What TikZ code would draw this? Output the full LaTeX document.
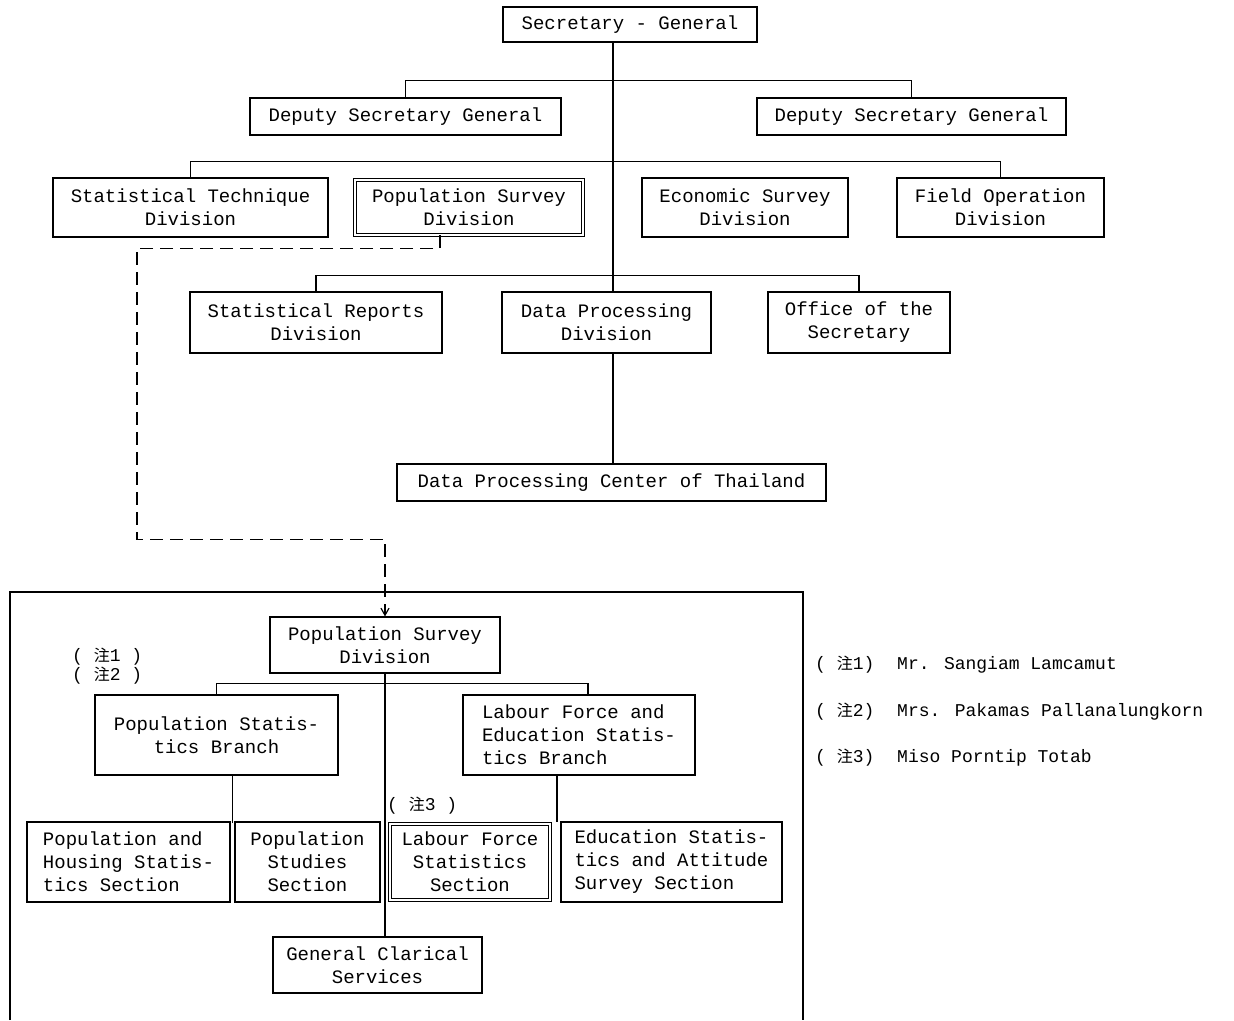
\documentclass[tikz,border=0pt]{standalone}
\usepackage{fontspec}
\usetikzlibrary{arrows.meta}
\newfontfamily\monofont{Liberation Mono}
\newfontfamily\cjk{Noto Sans CJK JP}
\newcommand{\notech}{{\cjk\fontsize{16}{16}\selectfont 注}}
\begin{document}
\begin{tikzpicture}[x=1pt,y=-1pt,
    box/.style={draw=black,line width=1.2pt,inner sep=0pt,align=center,
      font=\monofont\fontsize{19}{23}\selectfont},
    dbox/.style={box,double,double distance=2pt,line width=0.8pt},
    link/.style={draw=black,line width=1.2pt},
    note/.style={inner sep=0pt,anchor=west,font=\monofont\fontsize{18}{18}\selectfont}]
    \useasboundingbox (0,0) rectangle (1234,1020);

    \node[box,minimum width=254,minimum height=35] (S1) at (630, 24.5) {Secretary - General};

    \node[box,minimum width=311,minimum height=37] (D1) at (405.5, 116.5) {Deputy Secretary General};
    \node[box,minimum width=309,minimum height=37] (D2) at (911.5, 116.5) {Deputy Secretary General};

    \node[box,minimum width=275,minimum height=59] (V1) at (190.5, 207.5) {Statistical Technique\\Division};
    \node[dbox,minimum width=228,minimum height=55] (V2) at (469, 207.5) {Population Survey\\Division};
    \node[box,minimum width=206,minimum height=59] (V3) at (745, 207.5) {Economic Survey\\Division};
    \node[box,minimum width=207,minimum height=59] (V4) at (1000.5, 207.5) {Field Operation\\Division};

    \node[box,minimum width=252,minimum height=61] (R1) at (316, 322.5) {Statistical Reports\\Division};
    \node[box,minimum width=209,minimum height=61] (R2) at (606.5, 322.5) {Data Processing\\Division};
    \node[box,minimum width=182,minimum height=61] (R3) at (859, 322.5) {Office of the\\Secretary};

    \node[box,minimum width=429,minimum height=37] (C1) at (611.5, 482.5) {Data Processing Center of Thailand};

    \coordinate (k) at (613, 0);
    \draw[link] (k |- S1.south) -- (k |- R2.north);
    \draw[link] (k |- R2.south) -- (k |- C1.north);
    \draw[link] (D1.north) -- ++(0,-17) -| (D2.north);
    \draw[link] (V1.north) -- ++(0,-16) -| (V4.north);
    \draw[link] (R1.north) -- ++(0,-16) -| (R3.north);

    % lower part
    \draw[link] (10,1020) -- (10,592) -- (803,592) -- (803,1020);

    \node[box,minimum width=230,minimum height=56] (P1) at (385, 645) {Population Survey\\Division};

    \draw[link,dash pattern=on 13pt off 7pt,-{Straight Barb[length=7pt,width=8pt]}]
      ([xshift=-29]V2.south) -- ++(0,13) -- ++(-303,0) -- ++(0,291) -| (P1.north);

    \node[box,minimum width=243,minimum height=80] (B1) at (216.5, 735) {Population Statis-\\tics Branch};
    \node[box,align=left,minimum width=232,minimum height=80] (B2) at (579, 735) {Labour Force and\\Education Statis-\\tics Branch};

    \node[box,align=left,minimum width=203,minimum height=80] (T1) at (128.5, 862) {Population and\\Housing Statis-\\tics Section};
    \node[box,minimum width=145,minimum height=80] (T2) at (307.5, 862) {Population\\Studies\\Section};
    \node[dbox,minimum width=160,minimum height=76] (T3) at (470, 862) {Labour Force\\Statistics\\Section};
    \node[box,align=left,minimum width=221,minimum height=80] (T4) at (671.5, 862) {Education Statis-\\tics and Attitude\\Survey Section};

    \node[box,minimum width=209,minimum height=56] (G1) at (377.5, 965) {General Clarical\\Services};

    \draw[link] (P1.south) -- (P1.south |- G1.north);
    \draw[link] (B1.north) -- ++(0,-11) -| ([xshift=9]B2.north);
    \draw[link] ([xshift=16]B1.south) -- ++(0,47);
    \draw[link] ([xshift=-22]B2.south) -- ++(0,46);

    \node[note] (N1) at (72, 657) {( \notech1 )};
    \node[note] (N2) at (72, 676) {( \notech2 )};
    \node[note] (N3) at (387, 806) {( \notech3 )};

    \node[note] (M1) at (815, 665) {( \notech1)};
    \node[note] (M2) at (815, 712) {( \notech2)};
    \node[note] (M3) at (815, 758) {( \notech3)};
    \node[note] (L1) at (897, 665) {Mr. Sangiam Lamcamut};
    \node[note] (L2) at (897, 712) {Mrs. Pakamas Pallanalungkorn};
    \node[note] (L3) at (897, 758) {Miso Porntip Totab};
\end{tikzpicture}
\end{document}
